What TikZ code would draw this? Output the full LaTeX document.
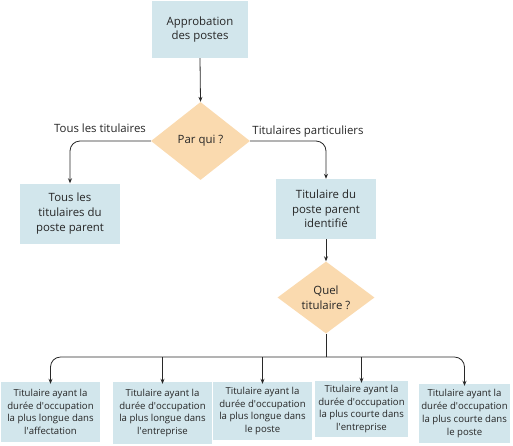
\documentclass[tikz,border=0pt]{standalone}
\usepackage{fontspec}
\setmainfont{Open Sans}
\usetikzlibrary{shapes.geometric,arrows.meta}
\definecolor{boxblue}{RGB}{210,230,236}
\definecolor{diaor}{RGB}{250,218,175}
\definecolor{linec}{RGB}{40,40,40}
\newcommand{\apos}{\textquotesingle}
\begin{document}
\begin{tikzpicture}[x=1pt,y=-1pt,
  every node/.style={font=\fontsize{11.4}{14.6}\selectfont, text=black!85},
  blk/.style={fill=boxblue, draw=none, align=center, inner sep=0pt, minimum width=100pt, minimum height=60pt},
  small/.style={font=\fontsize{9.6}{12.7}\selectfont},
  dia/.style={diamond, fill=diaor, draw=none, align=center, inner sep=0pt, minimum width=99pt, minimum height=78pt, aspect=1.27},
  conn/.style={draw=linec, line width=0.8pt, -{Stealth[length=5pt,width=4pt]}},
  plain/.style={draw=linec, line width=0.8pt},
  lbl/.style={inner sep=1pt}]
\useasboundingbox (0,0) rectangle (513,445);
\node[blk, minimum width=96pt, minimum height=57pt] (top) at (200,29.5) {Approbation\\des postes};
\node[dia] (q1) at (200.5,141) {Par qui ?};
\node[blk] (left) at (70,213.5) {Tous les\\titulaires du\\poste parent};
\node[blk] (right) at (326,209) {Titulaire du\\poste parent\\identifié};
\node[dia, minimum width=97pt, minimum height=72pt] (q2) at (326,297.5) {Quel\\titulaire ?};
\node[blk, small, minimum width=99pt] (b1) at (50.5,412) {Titulaire ayant la\\durée d\apos occupation\\la plus longue dans\\l\apos affectation};
\node[blk, small, minimum width=99pt, minimum height=62pt] (b2) at (162.5,413) {Titulaire ayant la\\durée d\apos occupation\\la plus longue dans\\l\apos entreprise};
\node[blk, small, minimum width=99pt, minimum height=58pt] (b3) at (262.5,411) {Titulaire ayant la\\durée d\apos occupation\\la plus longue dans\\le poste};
\node[blk, small, minimum width=93pt, minimum height=56pt] (b4) at (361.5,409) {Titulaire ayant la\\durée d\apos occupation\\la plus courte dans\\l\apos entreprise};
\node[blk, small, minimum width=91pt, minimum height=59pt] (b5) at (464.5,413.5) {Titulaire ayant la\\durée d\apos occupation\\la plus courte dans\\le poste};
\coordinate (bus) at (326,357);
\draw[conn] (top.south) -- (q1.north);
\draw[conn, rounded corners=10pt] (q1.west) -| (left.north);
\draw[conn, rounded corners=10pt] (q1.east) -| (right.north);
\draw[conn] (right.south) -- (q2.north);
\draw[plain] (q2.south) -- (bus);
\draw[conn, rounded corners=10pt] (bus) -| ([yshift=-2pt]b1.north);
\draw[conn, rounded corners=10pt] (bus) -| ([yshift=-2pt]b5.north);
\draw[conn] (bus -| b2.north) -- ([yshift=-2pt]b2.north);
\draw[conn] (bus -| b3.north) -- ([yshift=-2pt]b3.north);
\draw[conn] (bus -| b4.north) -- ([yshift=-2pt]b4.north);
\node[lbl] (l1) at (100,128.5) {Tous les titulaires};
\node[lbl] (l2) at (308,131.5) {Titulaires particuliers};
\end{tikzpicture}
\end{document}
